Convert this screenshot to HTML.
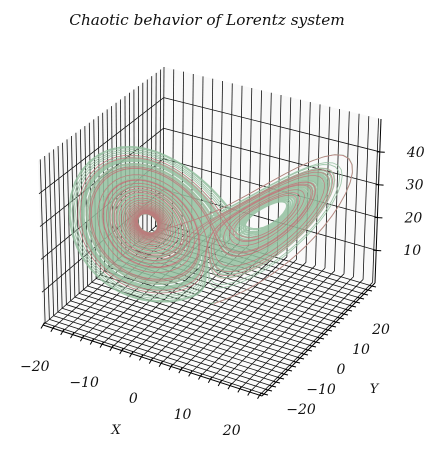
<!DOCTYPE html>
<html><head><meta charset="utf-8">
<style>
html,body{margin:0;padding:0;background:#fff;}
svg{display:block;}
text{font-family:"DejaVu Serif","Liberation Serif",serif;font-style:italic;fill:#111;}
</style></head>
<body>
<svg id="chart" width="442" height="455" viewBox="0 0 442 455" xmlns="http://www.w3.org/2000/svg">
<text x="207" y="25" font-size="15.3" text-anchor="middle">Chaotic behavior of Lorentz system</text>
<g id="panes"></g>
<g id="grid"></g>
<g id="series"></g>
<g id="axes"></g>
<text x="116" y="434" font-size="13" text-anchor="middle">X</text>
<text x="374" y="393" font-size="13" text-anchor="middle">Y</text>
</svg>
<script>
const xLimits = [-22, 22.5];
const yLimits = [-27, 29.5];
const zLimits = [0, 50];
const xTickLabels = [-20, -10, 0, 10, 20];
const yTickLabels = [-20, -10, 0, 10, 20];
const zTickLabels = [10, 20, 30, 40];
const lorenzParams = [10, 28, 8 / 3];
const seriesNames = ["tan", "green", "red"];
const seriesColors = ["#b9a898", "#93bf9f", "#cc5a6a"];
const seriesStarts = [[0.5, 1.2, 1.05], [0.0, 1.0, 1.05], [1.0, 1.0, 1.0]];
const seriesSteps = [2000, 20000, 3000];

const NS = "http://www.w3.org/2000/svg";
const cA=[43,325], cB=[262,396], cD=[163,220], cC=[375,283];
const hA=164, hB=172, hD=153, hC=164;
const lA=-5, lB=1, lD=1, lC=6;
function bl(a,b,d,c,u,v){return a*(1-u)*(1-v)+b*u*(1-v)+d*(1-u)*v+c*u*v;}
function proj(x,y,z){
  const u=(x-xLimits[0])/(xLimits[1]-xLimits[0]);
  const v=(y-yLimits[0])/(yLimits[1]-yLimits[0]);
  const w=(z-zLimits[0])/(zLimits[1]-zLimits[0]);
  const fx=bl(cA[0],cB[0],cD[0],cC[0],u,v), fy=bl(cA[1],cB[1],cD[1],cC[1],u,v);
  const h=bl(hA,hB,hD,hC,u,v), l=bl(lA,lB,lD,lC,u,v);
  return [fx+w*l, fy-w*h];
}
function line(g,p,q,stroke,sw,name){
  const el=document.createElementNS(NS,"line");
  el.setAttribute("x1",p[0].toFixed(2));el.setAttribute("y1",p[1].toFixed(2));
  el.setAttribute("x2",q[0].toFixed(2));el.setAttribute("y2",q[1].toFixed(2));
  el.setAttribute("stroke",stroke);el.setAttribute("stroke-width",sw);
  
  
  g.appendChild(el);
}
function poly(g,pts,fill,name){
  const el=document.createElementNS(NS,"polygon");
  el.setAttribute("points",pts.map(p=>p[0].toFixed(1)+","+p[1].toFixed(1)).join(" "));
  el.setAttribute("fill",fill);
  
  
  g.appendChild(el);
}
function txt(g,x,y,s,size,name){
  const el=document.createElementNS(NS,"text");
  el.setAttribute("x",x.toFixed(1));el.setAttribute("y",y.toFixed(1));
  el.setAttribute("font-size",size);el.setAttribute("text-anchor","middle");
  el.setAttribute("dominant-baseline","central");
  el.textContent=s;
  
  
  g.appendChild(el);
}
const [x0,x1]=xLimits,[y0,y1]=yLimits,[z0,z1]=zLimits;
const panes=document.getElementById("panes");
poly(panes,[proj(x0,y0,z0),proj(x0,y1,z0),proj(x0,y1,z1),proj(x0,y0,z1)],"#f7f7f7","left-pane");
poly(panes,[proj(x0,y1,z0),proj(x1,y1,z0),proj(x1,y1,z1),proj(x0,y1,z1)],"#f9f9f9","back-pane");
poly(panes,[proj(x0,y0,z0),proj(x1,y0,z0),proj(x1,y1,z0),proj(x0,y1,z0)],"#fbfbfb","floor-pane");

const grid=document.getElementById("grid");
const gc="#111", gw=0.8;
for(let x=Math.ceil(x0/2)*2;x<=x1;x+=2){
  line(grid,proj(x,y0,z0),proj(x,y1,z0),gc,gw,"floor-grid-x");
  line(grid,proj(x,y1,z0),proj(x,y1,z1),gc,gw,"back-wall-grid-x");
}
for(let y=Math.ceil(y0/2)*2;y<=y1;y+=2){
  line(grid,proj(x0,y,z0),proj(x1,y,z0),gc,gw,"floor-grid-y");
  line(grid,proj(x0,y,z0),proj(x0,y,z1),gc,gw,"left-wall-grid-y");
}
zTickLabels.forEach(z=>{
  line(grid,proj(x0,y0,z),proj(x0,y1,z),gc,gw,"left-wall-grid-z");
  line(grid,proj(x0,y1,z),proj(x1,y1,z),gc,gw,"back-wall-grid-z");
});

function deriv(s){const [sg,r,b]=lorenzParams;return [sg*(s[1]-s[0]), s[0]*(r-s[2])-s[1], s[0]*s[1]-b*s[2]];}
function integrate(start,steps){
  let s=start.slice(); const dt=0.01; const out=[s.slice()];
  for(let i=0;i<steps;i++){
    const k1=deriv(s);
    const k2=deriv(s.map((v,j)=>v+dt/2*k1[j]));
    const k3=deriv(s.map((v,j)=>v+dt/2*k2[j]));
    const k4=deriv(s.map((v,j)=>v+dt*k3[j]));
    s=s.map((v,j)=>v+dt/6*(k1[j]+2*k2[j]+2*k3[j]+k4[j]));
    out.push(s.slice());
  }
  return out;
}
const series=document.getElementById("series");
const widths=[0.7,0.9,0.75];
const opac=[0.95,0.85,0.65];
seriesNames.forEach((nm,i)=>{
  const pts=integrate(seriesStarts[i],seriesSteps[i]);
  const el=document.createElementNS(NS,"polyline");
  el.setAttribute("points",pts.map(p=>{const q=proj(p[0],p[1],p[2]);return q[0].toFixed(1)+","+q[1].toFixed(1);}).join(" "));
  el.setAttribute("fill","none");el.setAttribute("stroke",seriesColors[i]);
  el.setAttribute("stroke-width",widths[i]);el.setAttribute("stroke-opacity",opac[i]);
  
  
  series.appendChild(el);
});

const axes=document.getElementById("axes");
line(axes,proj(x0,y0,z0),proj(x1,y0,z0),"#000",1,"x-axis-line");
line(axes,proj(x1,y0,z0),proj(x1,y1,z0),"#000",1,"y-axis-line");
line(axes,proj(x1,y1,z0),proj(x1,y1,z1),"#000",1,"z-axis-line");
for(let x=Math.ceil(x0/2)*2;x<=x1;x+=2){
  const p=proj(x,y0,z0);
  line(axes,[p[0]+1.5,p[1]-2.5],[p[0]-2,p[1]+3.5],"#000",1,"x-tick");
}
for(let y=Math.ceil(y0/2)*2;y<=y1;y+=2){
  const p=proj(x1,y,z0);
  line(axes,[p[0]-2.5,p[1]-0.5],[p[0]+4,p[1]+1],"#000",1,"y-tick");
}
zTickLabels.forEach(z=>{
  const p=proj(x1,y1,z);
  line(axes,[p[0]-3,p[1]],[p[0]+5,p[1]+0.5],"#000",1,"z-tick");
  txt(axes,p[0]+36,p[1]+1,String(z),14,"z-tick-label");
});
const fmt=v=>v<0?"\u2212"+Math.abs(v):String(v);
xTickLabels.forEach(x=>{
  const p=proj(x,y0,z0);
  txt(axes,p[0]-18,p[1]+39,fmt(x),14,"x-tick-label");
});
yTickLabels.forEach(y=>{
  const p=proj(x1,y,z0);
  txt(axes,p[0]+25,p[1]+28,fmt(y),14,"y-tick-label");
});
</script>
</body></html>
